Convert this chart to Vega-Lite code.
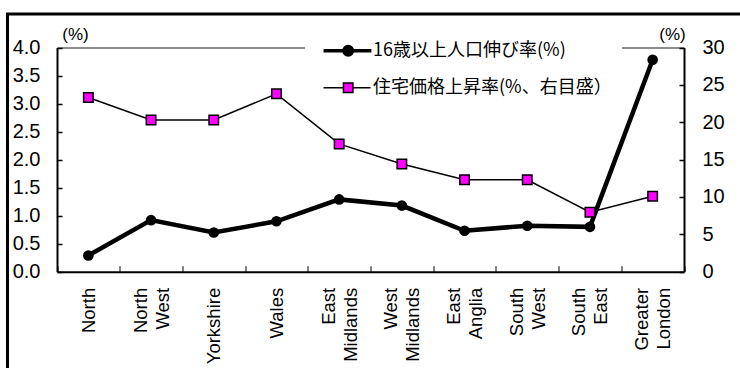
{
  "$schema": "https://vega.github.io/schema/vega-lite/v6.json",
  "width": 735,
  "height": 356,
  "autosize": {"type": "none"},
  "padding": {"left": 7.5, "top": 14, "right": -2.5, "bottom": -2},
  "background": "white",
  "config": {
    "view": {"stroke": "black", "strokeWidth": 3},
    "axis": {"grid": false, "domainColor": "black", "tickColor": "black", "labelColor": "black", "titleColor": "black"}
  },
  "datasets": {
    "pop": [
      {"region": "North", "value": 0.29},
      {"region": "North West", "value": 0.92},
      {"region": "Yorkshire", "value": 0.70},
      {"region": "Wales", "value": 0.90},
      {"region": "East Midlands", "value": 1.29},
      {"region": "West Midlands", "value": 1.18},
      {"region": "East Anglia", "value": 0.73},
      {"region": "South West", "value": 0.82},
      {"region": "South East", "value": 0.80},
      {"region": "Greater London", "value": 3.78}
    ],
    "house": [
      {"region": "North", "value": 23.3},
      {"region": "North West", "value": 20.3},
      {"region": "Yorkshire", "value": 20.3},
      {"region": "Wales", "value": 23.8},
      {"region": "East Midlands", "value": 17.1},
      {"region": "West Midlands", "value": 14.4},
      {"region": "East Anglia", "value": 12.3},
      {"region": "South West", "value": 12.3},
      {"region": "South East", "value": 7.95},
      {"region": "Greater London", "value": 10.1}
    ]
  },
  "layer": [
    {
      "data": {"name": "pop"},
      "encoding": {
        "y": {
          "field": "value",
          "type": "quantitative",
          "scale": {"domain": [0, 4], "range": [257.7, 33.5], "nice": false},
          "axis": {
            "orient": "left",
            "offset": -49.5,
            "values": [0, 0.5, 1, 1.5, 2, 2.5, 3, 3.5, 4],
            "format": ".1f",
            "domainWidth": 2,
            "tickSize": -5,
            "tickWidth": 1.5,
            "labelPadding": 22,
            "labelFont": "Liberation Sans",
            "labelFontSize": 20,
            "title": "(%)",
            "titleAngle": 0,
            "titleX": 18,
            "titleY": 20,
            "titleAlign": "center",
            "titleBaseline": "middle",
            "titleFont": "Liberation Sans",
            "titleFontSize": 17,
            "titleFontWeight": "normal"
          }
        }
      },
      "layer": [
        {
          "mark": {"type": "line", "strokeWidth": 4.5},
          "encoding": {
            "x": {
              "field": "region",
              "type": "nominal",
              "sort": null,
              "scale": {"type": "band", "range": [49.5, 676.5], "paddingInner": 0, "paddingOuter": 0},
              "axis": {
                "orient": "bottom",
                "offset": -98.3,
                "title": null,
                "tickBand": "extent",
                "tickSize": -6,
                "tickWidth": 1,
                "domainWidth": 2,
                "labelAngle": -90,
                "labelPadding": 21.6,
                "labelExpr": "indexof(datum.label, ' ') >= 0 ? '' : datum.label",
                "labelFont": "Liberation Sans",
                "labelFontSize": 18.5,
                "labelLimit": 300
              }
            },
            "color": {
              "datum": "16歳以上人口伸び率(%)",
              "scale": {"domain": ["16歳以上人口伸び率(%)", "住宅価格上昇率(%、右目盛）"], "range": ["black", "black"]},
              "legend": {
                "orient": "none",
                "legendX": 297.5,
                "legendY": 17.7,
                "title": null,
                "fillColor": "white",
                "padding": 10,
                "labelFont": "Noto Sans CJK JP",
                "labelFontSize": 18,
                "labelColor": "black",
                "labelOffset": 40,
                "labelLimit": 400,
                "symbolSize": 144,
                "rowPadding": 16,
                "encode": {
                  "symbols": {
                    "update": {
                      "shape": {"signal": "datum.value === '16歳以上人口伸び率(%)' ? 'M-0.08,0H7.9M4.74,0A0.71,0.71 0 1,1 3.32,0A0.71,0.71 0 1,1 4.74,0Z' : 'M-0.08,0H3.24M4.82,0H7.75M3.24,-0.79H4.82V0.79H3.24Z'"},
                      "fill": {"signal": "datum.value === '16歳以上人口伸び率(%)' ? 'black' : '#ff00ff'"},
                      "stroke": {"value": "black"},
                      "strokeWidth": {"signal": "datum.value === '16歳以上人口伸び率(%)' ? 3.5 : 1.5"},
                      "opacity": {"value": 1}
                    }
                  }
                }
              }
            }
          }
        },
        {
          "mark": {"type": "point", "shape": "circle", "filled": true, "size": 113, "color": "black", "opacity": 1},
          "encoding": {
            "x": {
              "field": "region",
              "type": "nominal",
              "sort": null,
              "axis": {
                "orient": "bottom",
                "offset": -98.3,
                "title": null,
                "domain": false,
                "tickBand": "extent",
                "tickSize": -6,
                "tickOpacity": 0,
                "labelAngle": -90,
                "labelPadding": 21.6,
                "labelOffset": -11,
                "labelExpr": "indexof(datum.label, ' ') >= 0 ? split(datum.label, ' ') : ''",
                "labelLineHeight": 22,
                "labelFont": "Liberation Sans",
                "labelFontSize": 18.5,
                "labelLimit": 300
              }
            }
          }
        }
      ],
      "resolve": {"axis": {"x": "independent"}}
    },
    {
      "data": {"name": "house"},
      "encoding": {
        "x": {
          "field": "region",
          "type": "nominal",
          "sort": null,
          "axis": {
            "orient": "top",
            "offset": -33.5,
            "title": null,
            "labels": false,
            "ticks": false,
            "domainColor": "#8c8c8c",
            "domainWidth": 2
          }
        },
        "y": {
          "field": "value",
          "type": "quantitative",
          "scale": {"domain": [0, 30], "range": [257.7, 33.5], "nice": false},
          "axis": {
            "orient": "right",
            "offset": -58.5,
            "values": [0, 5, 10, 15, 20, 25, 30],
            "format": "d",
            "domainWidth": 2,
            "tickSize": -5,
            "tickWidth": 1.5,
            "labelPadding": 23,
            "labelFont": "Liberation Sans",
            "labelFontSize": 20,
            "title": "(%)",
            "titleAngle": 0,
            "titleX": -12,
            "titleY": 20,
            "titleAlign": "center",
            "titleBaseline": "middle",
            "titleFont": "Liberation Sans",
            "titleFontSize": 17,
            "titleFontWeight": "normal"
          }
        }
      },
      "layer": [
        {
          "mark": {"type": "line", "strokeWidth": 1.5},
          "encoding": {"color": {"datum": "住宅価格上昇率(%、右目盛）"}}
        },
        {
          "mark": {"type": "point", "shape": "square", "filled": true, "size": 90, "fill": "#ff00ff", "stroke": "black", "strokeWidth": 1.5, "opacity": 1}
        }
      ]
    }
  ],
  "resolve": {"scale": {"y": "independent"}, "axis": {"x": "independent", "y": "independent"}}
}
